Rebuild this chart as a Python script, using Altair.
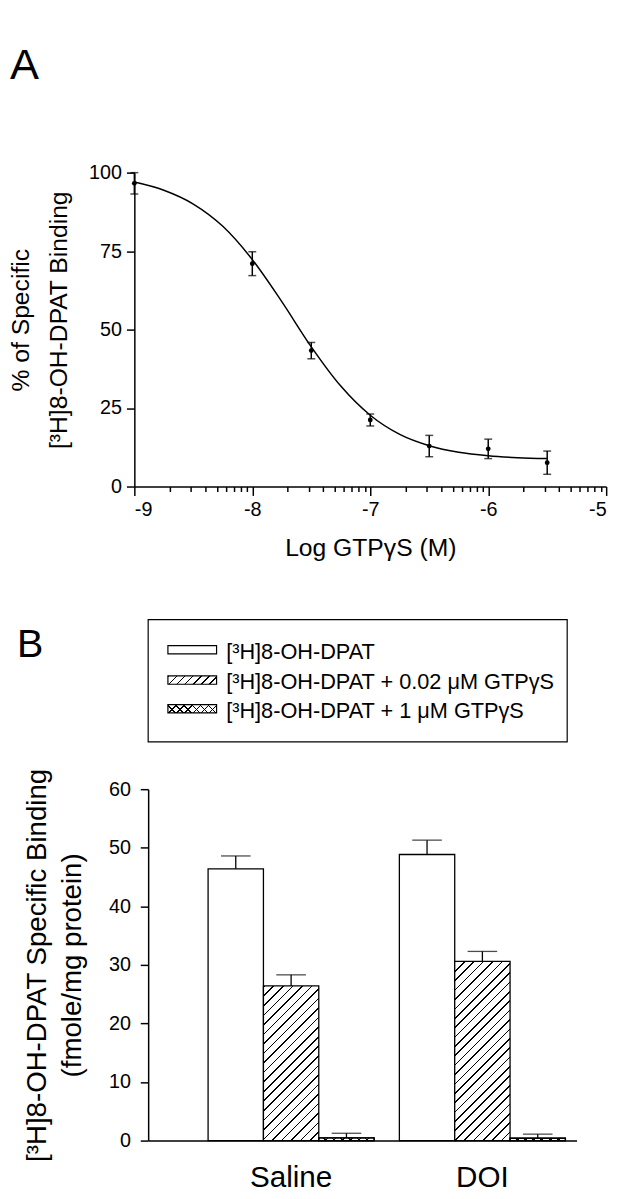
import altair as alt
import pandas as pd
import numpy as np

FONT = "Liberation Sans"

# ---------------- Panel A data ----------------
log_gtp = [-9.0, -8.0, -7.5, -7.0, -6.5, -6.0, -5.5]
pct_specific = [96.6, 71.0, 43.3, 21.2, 12.9, 12.0, 7.6]
pct_sem = [3.4, 3.8, 2.6, 1.9, 3.4, 3.1, 3.7]

fit_log_gtp = [-9.0, -8.75, -8.5, -8.25, -8.0, -7.75, -7.5, -7.25, -7.0,
               -6.75, -6.5, -6.25, -6.0, -5.75, -5.5]
fit_pct = [97.0, 94.4, 90.0, 82.9, 72.3, 58.9, 44.5, 32.0, 22.7,
           16.6, 13.0, 10.9, 9.8, 9.2, 8.9]

x_major_ticks = [-9, -8, -7, -6, -5]
x_minor_ticks = [round(d + np.log10(k), 4) for d in (-9, -8, -7, -6) for k in range(2, 10)]
y_ticks_a = [0, 25, 50, 75, 100]

# ---------------- Panel B data ----------------
treatments = ["Saline", "DOI"]
conditions = ["[³H]8-OH-DPAT",
              "[³H]8-OH-DPAT + 0.02 μM GTPγS",
              "[³H]8-OH-DPAT + 1 μM GTPγS"]
saline_binding = [46.4, 26.4, 0.45]
saline_sem = [2.2, 1.9, 0.8]
doi_binding = [48.85, 30.6, 0.4]
doi_sem = [2.45, 1.7, 0.7]
y_ticks_b = [0, 10, 20, 30, 40, 50, 60]

# ---------------- layout / style ----------------
A_W, A_H, A_SHIFT = 464, 318, 14
B_W, B_H, B_YMAX = 434, 356, 60
P_IN, P_OUT, ALIGN = 0.132, 0.1858, 0.843
BAR_W = (B_W / (2 - P_IN + 2 * P_OUT)) * (1 - P_IN) / 3


def stripes(W, H, period, line, direction, bg):
    W = max(W, 0.5)
    H = max(H, 0.5)
    n = max(1, int(round((W + H) / period)))
    f = min(0.45, line * np.sqrt(2) / ((W + H) / n))
    lam = (W + H) / (W * W + H * H)
    if direction == "/":
        x1, y1, x2, y2 = 0, 0, lam * W, lam * H
    else:
        x1, y1, x2, y2 = 1, 0, 1 - lam * W, lam * H
    stops = []
    for i in range(n):
        a, b, c = i / n, (i + f) / n, (i + 1) / n
        stops += [{"offset": round(a, 5), "color": "black"},
                  {"offset": round(b, 5), "color": "black"},
                  {"offset": round(b, 5), "color": bg},
                  {"offset": round(c, 5), "color": bg}]
    return {"gradient": "linear", "x1": round(x1, 5), "y1": round(y1, 5),
            "x2": round(x2, 5), "y2": round(y2, 5), "stops": stops}


CLEAR = "rgba(0,0,0,0)"

# ---------------- Panel A ----------------
pts = pd.DataFrame({"log": log_gtp, "pct": pct_specific, "sem": pct_sem})
pts["lo"] = pts["pct"] - pts["sem"]
pts["hi"] = pts["pct"] + pts["sem"]
fit = pd.DataFrame({"log": fit_log_gtp, "pct": fit_pct})

xA = alt.Scale(domain=[-9, -5], range=[-A_SHIFT, A_W], nice=False, zero=False)
yA = alt.Scale(domain=[0, 100], nice=False)
yA_axis = alt.Axis(values=y_ticks_a, offset=A_SHIFT, tickSize=8, labelPadding=5,
                   labelFontSize=20, title=["% of Specific", "[³H]8-OH-DPAT Binding"],
                   titleFontSize=25, titleLineHeight=39, titlePadding=17, titleY=149)
x_major_axis = alt.Axis(values=x_major_ticks, orient="bottom", tickSize=9, labelPadding=4,
                        labelFontSize=20, labelExpr="'' + datum.value", title="Log GTPγS (M)",
                        titleFontSize=25, titlePadding=17)
x_minor_axis = alt.Axis(values=x_minor_ticks, orient="bottom", tickSize=5, labels=False,
                        domain=False, title=None)

curve = alt.Chart(fit).mark_line(color="black", strokeWidth=1.5, interpolate="monotone").encode(
    x=alt.X("log:Q", scale=xA, axis=x_minor_axis),
    y=alt.Y("pct:Q", scale=yA, axis=yA_axis))
err_a = alt.Chart(pts).mark_rule(color="black", strokeWidth=1.5).encode(
    x=alt.X("log:Q", scale=xA, axis=None),
    y=alt.Y("lo:Q", scale=yA, axis=yA_axis), y2="hi:Q")
cap_lo = alt.Chart(pts).mark_tick(color="black", orient="horizontal", size=8, thickness=1.5).encode(
    x=alt.X("log:Q", scale=xA, axis=None),
    y=alt.Y("lo:Q", scale=yA, axis=yA_axis))
cap_hi = alt.Chart(pts).mark_tick(color="black", orient="horizontal", size=8, thickness=1.5).encode(
    x=alt.X("log:Q", scale=xA, axis=None),
    y=alt.Y("hi:Q", scale=yA, axis=yA_axis))
dots = alt.Chart(pts).mark_point(filled=True, color="black", size=24, opacity=1).encode(
    x=alt.X("log:Q", scale=xA, axis=x_major_axis),
    y=alt.Y("pct:Q", scale=yA, axis=yA_axis))
letter_a = alt.Chart(pd.DataFrame({"panel": ["A"]})).mark_text(
    font=FONT, fontSize=44, align="left", baseline="alphabetic", color="black").encode(
    text="panel:N", x=alt.value(-140), y=alt.value(-95))

panel_a = alt.layer(curve, err_a, cap_lo, cap_hi, dots, letter_a).properties(
    width=A_W, height=A_H).resolve_axis(x="independent")

# ---------------- Panel B ----------------
rows = []
for g, vals, sems in ((treatments[0], saline_binding, saline_sem),
                      (treatments[1], doi_binding, doi_sem)):
    for si, (cond, v, s) in enumerate(zip(conditions, vals, sems)):
        H = v * B_H / B_YMAX
        if si == 0:
            f1, f2 = "white", CLEAR
        elif si == 1:
            f1, f2 = stripes(BAR_W, H, 9.5, 1.2, "/", "white"), CLEAR
        else:
            f1 = stripes(BAR_W, H, 8.5, 1.1, "/", "white")
            f2 = stripes(BAR_W, H, 8.5, 1.1, "\\", CLEAR)
        rows.append({"treatment": g, "condition": cond, "cidx": si, "binding": v,
                     "hi": v + s, "fill1": f1, "fill2": f2})
bar_data = alt.Data(values=rows)

xB = alt.Scale(domain=treatments, paddingInner=P_IN, paddingOuter=P_OUT, align=ALIGN)
xoB = alt.Scale(domain=conditions, paddingInner=0, paddingOuter=0)
yB = alt.Scale(domain=[0, B_YMAX], nice=False)
yB_axis = alt.Axis(values=y_ticks_b, tickSize=8, labelPadding=10, labelFontSize=20,
                   title=["[³H]8-OH-DPAT Specific Binding", "(fmole/mg protein)"],
                   titleFontSize=28, titleLineHeight=36, titlePadding=22)
xB_axis = alt.Axis(ticks=False, labelPadding=23, labelFontSize=30, labelAngle=0, title=None)

enc_x = alt.X("treatment:N", scale=xB, axis=xB_axis, sort=treatments)
enc_xo = alt.XOffset("condition:N", scale=xoB, sort=conditions)

bars = alt.Chart(bar_data).mark_bar(stroke="black", strokeWidth=1.3).encode(
    x=enc_x, xOffset=enc_xo,
    y=alt.Y("binding:Q", scale=yB, axis=yB_axis),
    fill=alt.Fill("fill1:N", scale=None))
bars_over = alt.Chart(bar_data).mark_bar(stroke="black", strokeWidth=1.3).encode(
    x=enc_x, xOffset=enc_xo,
    y=alt.Y("binding:Q", scale=yB, axis=yB_axis),
    fill=alt.Fill("fill2:N", scale=None)).transform_filter("datum.cidx == 2")
err_b = alt.Chart(bar_data).mark_rule(color="black", strokeWidth=1.3).encode(
    x=enc_x, xOffset=enc_xo,
    y=alt.Y("binding:Q", scale=yB, axis=yB_axis), y2="hi:Q")
cap_b = alt.Chart(bar_data).mark_tick(color="black", orient="horizontal", size=30,
                                      thickness=1.3).encode(
    x=enc_x, xOffset=enc_xo,
    y=alt.Y("hi:Q", scale=yB, axis=yB_axis))

# legend (drawn above the plot area)
LEG_ROWS = [-141.2, -110.5, -81.5]
legend_layers = []
box = alt.Chart(pd.DataFrame({"k": [0]})).mark_rect(
    fill="white", stroke="black", strokeWidth=1.2).encode(
    x=alt.value(0), x2=alt.value(424.5), y=alt.value(-171.7), y2=alt.value(-48))
legend_layers.append(box)
SW_W, SW_H = 49.3, 8.4
sw_fills = [("white", None),
            (stripes(SW_W, SW_H, 8.5, 1.2, "/", "white"), None),
            (stripes(SW_W, SW_H, 8.5, 1.1, "/", "white"),
             stripes(SW_W, SW_H, 8.5, 1.1, "\\", CLEAR))]
for i, cond in enumerate(conditions):
    cy = LEG_ROWS[i]
    one = pd.DataFrame({"condition": [cond]})
    f1, f2 = sw_fills[i]
    legend_layers.append(alt.Chart(one).mark_rect(stroke="black", strokeWidth=1.2).encode(
        x=alt.value(20), x2=alt.value(20 + SW_W),
        y=alt.value(cy - SW_H / 2), y2=alt.value(cy + SW_H / 2), fill=alt.value(f1)))
    if f2 is not None:
        legend_layers.append(alt.Chart(one).mark_rect(strokeWidth=0).encode(
            x=alt.value(20), x2=alt.value(20 + SW_W),
            y=alt.value(cy - SW_H / 2), y2=alt.value(cy + SW_H / 2), fill=alt.value(f2)))
    legend_layers.append(alt.Chart(one).mark_text(
        font=FONT, fontSize=22, align="left", baseline="middle", color="black").encode(
        text="condition:N", x=alt.value(79), y=alt.value(cy + 2)))

letter_b = alt.Chart(pd.DataFrame({"panel": ["B"]})).mark_text(
    font=FONT, fontSize=40, align="left", baseline="alphabetic", color="black").encode(
    text="panel:N", x=alt.value(-133), y=alt.value(-134))

panel_b = alt.layer(bars, bars_over, err_b, cap_b, *legend_layers, letter_b).properties(
    width=B_W, height=B_H)

chart = alt.vconcat(panel_a, panel_b, spacing=58.6).properties(
    padding={"left": 0, "top": 29, "right": 0, "bottom": 0}
).configure_view(strokeWidth=0).configure_axis(
    domainColor="black", domainWidth=1.5, tickColor="black", tickWidth=1.5,
    labelColor="black", titleColor="black", labelFont=FONT, titleFont=FONT,
    titleFontWeight="normal", grid=False
).configure_text(font=FONT)

chart.save("out.html", embed_options={"renderer": "svg", "actions": False})
